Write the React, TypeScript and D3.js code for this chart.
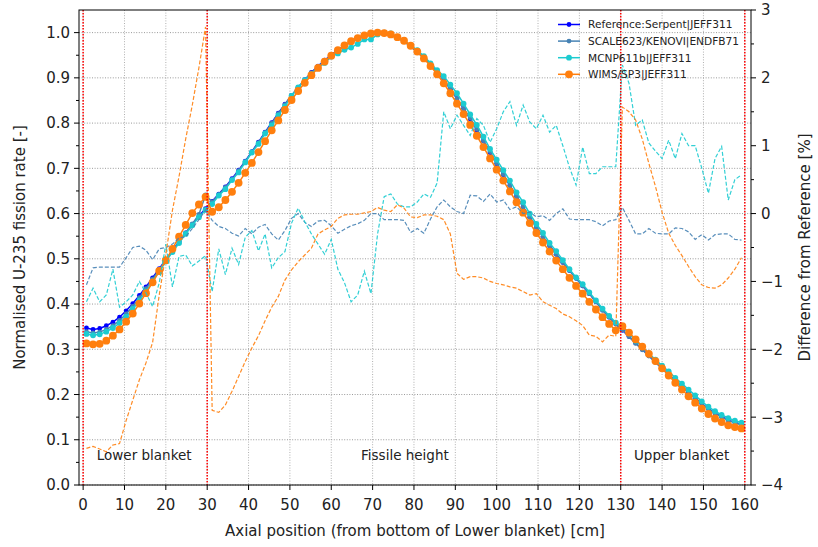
import React from "react";
import * as d3 from "d3";

// Axial mesh positions [cm]
const AXIAL_CM = [
  0.8, 2.4, 4.0, 5.6, 7.2, 8.8, 10.4, 12.0, 13.6, 15.2, 16.8, 18.4, 20.0, 21.6, 23.2, 24.8, 26.4, 28.0, 29.6, 31.2,
  32.8, 34.4, 36.0, 37.6, 39.2, 40.8, 42.4, 44.0, 45.6, 47.2, 48.8, 50.4, 52.0, 53.6, 55.2, 56.8, 58.4, 60.0, 61.6, 63.2,
  64.8, 66.4, 68.0, 69.6, 71.2, 72.8, 74.4, 76.0, 77.6, 79.2, 80.8, 82.4, 84.0, 85.6, 87.2, 88.8, 90.4, 92.0, 93.6, 95.2,
  96.8, 98.4, 100.0, 101.6, 103.2, 104.8, 106.4, 108.0, 109.6, 111.2, 112.8, 114.4, 116.0, 117.6, 119.2, 120.8, 122.4, 124.0, 125.6, 127.2,
  128.8, 130.4, 132.0, 133.6, 135.2, 136.8, 138.4, 140.0, 141.6, 143.2, 144.8, 146.4, 148.0, 149.6, 151.2, 152.8, 154.4, 156.0, 157.6, 159.2,
];

// Normalised U-235 fission rate
const REF_SERPENT = [
  0.347, 0.344, 0.346, 0.352, 0.360, 0.371, 0.385, 0.401, 0.419, 0.438, 0.458, 0.478, 0.498, 0.518, 0.538, 0.557, 0.576, 0.594, 0.611, 0.627,
  0.643, 0.659, 0.677, 0.696, 0.716, 0.737, 0.758, 0.780, 0.801, 0.822, 0.842, 0.861, 0.879, 0.896, 0.912, 0.926, 0.939, 0.951, 0.962, 0.972,
  0.980, 0.987, 0.993, 0.997, 0.999, 0.998, 0.995, 0.989, 0.981, 0.971, 0.959, 0.945, 0.930, 0.913, 0.895, 0.875, 0.854, 0.832, 0.809, 0.785,
  0.760, 0.735, 0.710, 0.686, 0.662, 0.638, 0.615, 0.592, 0.570, 0.549, 0.529, 0.510, 0.492, 0.474, 0.457, 0.440, 0.423, 0.405, 0.387, 0.371,
  0.356, 0.342, 0.328, 0.314, 0.300, 0.286, 0.272, 0.258, 0.244, 0.231, 0.218, 0.205, 0.192, 0.180, 0.169, 0.159, 0.151, 0.144, 0.138, 0.134,
];
const SCALE_KENOVI = [
  0.339, 0.336, 0.338, 0.344, 0.352, 0.364, 0.378, 0.395, 0.414, 0.434, 0.455, 0.476, 0.497, 0.517, 0.537, 0.557, 0.577, 0.598, 0.641, 0.626,
  0.642, 0.658, 0.675, 0.695, 0.715, 0.736, 0.757, 0.779, 0.800, 0.821, 0.841, 0.861, 0.879, 0.895, 0.911, 0.925, 0.938, 0.950, 0.961, 0.971,
  0.979, 0.986, 0.992, 0.997, 0.999, 0.997, 0.994, 0.988, 0.980, 0.969, 0.957, 0.943, 0.929, 0.913, 0.896, 0.876, 0.854, 0.832, 0.811, 0.787,
  0.761, 0.737, 0.711, 0.687, 0.662, 0.638, 0.615, 0.592, 0.570, 0.549, 0.529, 0.510, 0.492, 0.474, 0.457, 0.440, 0.423, 0.405, 0.386, 0.371,
  0.356, 0.343, 0.328, 0.313, 0.299, 0.285, 0.271, 0.257, 0.243, 0.230, 0.217, 0.204, 0.191, 0.179, 0.168, 0.159, 0.150, 0.143, 0.137, 0.133,
];
const MCNP611B = [
  0.334, 0.331, 0.333, 0.339, 0.347, 0.358, 0.372, 0.389, 0.408, 0.428, 0.450, 0.472, 0.494, 0.515, 0.535, 0.555, 0.574, 0.592, 0.608, 0.621,
  0.640, 0.654, 0.674, 0.691, 0.713, 0.735, 0.754, 0.777, 0.795, 0.817, 0.837, 0.860, 0.879, 0.895, 0.909, 0.922, 0.933, 0.947, 0.954, 0.962,
  0.967, 0.975, 0.985, 0.985, 0.996, 1.000, 0.998, 0.990, 0.982, 0.972, 0.961, 0.948, 0.932, 0.917, 0.904, 0.885, 0.866, 0.843, 0.819, 0.796,
  0.770, 0.743, 0.719, 0.696, 0.673, 0.647, 0.625, 0.600, 0.577, 0.557, 0.535, 0.517, 0.497, 0.477, 0.459, 0.444, 0.426, 0.408, 0.390, 0.374,
  0.359, 0.350, 0.335, 0.319, 0.305, 0.291, 0.277, 0.264, 0.251, 0.237, 0.224, 0.211, 0.198, 0.185, 0.173, 0.163, 0.155, 0.148, 0.142, 0.138,
];
const WIMS_SP3 = [
  0.313, 0.311, 0.312, 0.319, 0.330, 0.344, 0.361, 0.379, 0.401, 0.424, 0.448, 0.473, 0.497, 0.522, 0.549, 0.575, 0.601, 0.620, 0.637, 0.604,
  0.614, 0.630, 0.648, 0.668, 0.690, 0.712, 0.736, 0.760, 0.784, 0.806, 0.829, 0.851, 0.871, 0.889, 0.906, 0.922, 0.936, 0.949, 0.961, 0.972,
  0.981, 0.988, 0.994, 0.998, 1.000, 0.999, 0.996, 0.990, 0.982, 0.971, 0.958, 0.943, 0.926, 0.908, 0.888, 0.866, 0.843, 0.820, 0.796, 0.772,
  0.747, 0.722, 0.697, 0.673, 0.649, 0.625, 0.602, 0.579, 0.557, 0.536, 0.516, 0.496, 0.477, 0.458, 0.440, 0.423, 0.405, 0.388, 0.371, 0.356,
  0.342, 0.351, 0.337, 0.322, 0.306, 0.290, 0.274, 0.258, 0.242, 0.226, 0.211, 0.196, 0.182, 0.169, 0.157, 0.147, 0.139, 0.132, 0.128, 0.125,
];

// Difference from reference [%]
const DIFF_SCALE = [
  -1.05, -0.80, -0.79, -0.79, -0.79, -0.79, -0.65, -0.50, -0.48, -0.54, -0.68, -0.52, -0.50, -0.45, -0.36, -0.34, -0.22, -0.09, 0.05, -0.10,
  -0.19, -0.22, -0.29, -0.33, -0.22, -0.30, -0.20, -0.16, -0.30, -0.39, -0.25, -0.07, 0.00, -0.13, -0.19, -0.11, -0.10, -0.18, -0.29, -0.23,
  -0.18, -0.15, -0.10, 0.00, 0.00, -0.09, -0.09, -0.09, -0.10, -0.28, -0.22, -0.29, -0.08, 0.10, 0.20, 0.10, 0.03, 0.00, 0.27, 0.26,
  0.18, 0.29, 0.17, 0.20, 0.06, 0.10, 0.00, 0.02, -0.05, -0.03, -0.10, 0.00, 0.07, -0.08, -0.09, -0.09, -0.09, -0.12, -0.18, -0.11,
  -0.09, 0.09, -0.10, -0.30, -0.30, -0.22, -0.29, -0.30, -0.30, -0.21, -0.22, -0.27, -0.38, -0.31, -0.39, -0.31, -0.30, -0.30, -0.38, -0.39,
];
const DIFF_MCNP = [
  -1.30, -1.10, -1.30, -1.20, -0.82, -1.38, -1.30, -1.20, -1.00, -1.17, -1.37, -1.02, -0.45, -1.08, -0.63, -0.61, -0.77, -0.70, -0.62, -1.15,
  -0.52, -0.90, -0.51, -0.75, -0.35, -0.25, -0.55, -0.30, -0.80, -0.65, -0.56, -0.14, 0.08, -0.12, -0.30, -0.45, -0.60, -0.38, -0.82, -1.02,
  -1.30, -1.20, -0.85, -1.18, -0.30, 0.25, 0.29, 0.14, 0.10, 0.10, 0.17, 0.29, 0.24, 0.45, 1.50, 1.25, 1.45, 1.30, 1.15, 1.40,
  1.30, 1.05, 1.25, 1.50, 1.65, 1.30, 1.60, 1.35, 1.25, 1.45, 1.20, 1.30, 1.00, 0.68, 0.42, 0.98, 0.59, 0.59, 0.69, 0.69,
  0.69, 2.19, 1.92, 1.30, 1.38, 1.04, 0.92, 0.81, 1.08, 0.81, 1.18, 1.00, 1.00, 0.67, 0.30, 0.81, 0.99, 0.20, 0.50, 0.57,
];
const DIFF_WIMS = [
  -3.46, -3.43, -3.47, -3.51, -3.41, -3.39, -3.05, -2.75, -2.45, -2.20, -1.90, -1.20, -0.60, 0.05, 0.55, 1.10, 1.60, 2.15, 2.75, -2.90,
  -2.93, -2.82, -2.62, -2.40, -2.18, -1.98, -1.80, -1.58, -1.38, -1.22, -0.98, -0.83, -0.71, -0.61, -0.51, -0.30, -0.24, -0.19, -0.07, -0.02,
  -0.01, -0.01, 0.01, 0.03, 0.09, 0.05, 0.03, 0.13, 0.08, -0.05, -0.06, -0.02, -0.02, -0.04, -0.09, -0.30, -0.88, -0.97, -0.93, -0.93,
  -0.95, -1.00, -1.03, -1.05, -1.08, -1.10, -1.15, -1.20, -1.18, -1.30, -1.35, -1.40, -1.48, -1.52, -1.58, -1.65, -1.79, -1.81, -1.89, -1.79,
  -1.81, 1.57, 1.50, 1.38, 1.10, 0.74, 0.40, 0.02, -0.29, -0.47, -0.62, -0.78, -0.93, -1.05, -1.09, -1.10, -1.05, -0.95, -0.82, -0.65,
];

const SERIES_NAMES = ["Reference:Serpent|JEFF311", "SCALE623/KENOVI|ENDFB71", "MCNP611b|JEFF311", "WIMS/SP3|JEFF311"];
const X_TICKS = [0, 10, 20, 30, 40, 50, 60, 70, 80, 90, 100, 110, 120, 130, 140, 150, 160];
const LEFT_TICKS = [0.0, 0.1, 0.2, 0.3, 0.4, 0.5, 0.6, 0.7, 0.8, 0.9, 1.0];
const LEFT_MINOR = [0.05, 0.15, 0.25, 0.35, 0.45, 0.55, 0.65, 0.75, 0.85, 0.95];
const RIGHT_TICKS = [-4, -3, -2, -1, 0, 1, 2, 3];
const RIGHT_MINOR = [-3.5, -2.5, -1.5, -0.5, 0.5, 1.5, 2.5];
const ZONE_BOUNDS = [0, 30, 130, 160];
const ZONE_LABELS = ["Lower blanket", "Fissile height", "Upper blanket"];
const ZONE_LABEL_X = [3.3, 67.2, 133.2];

const FONT = "DejaVu Sans, Verdana, sans-serif";

export default function App() {
  const W = 818, H = 547;
  const L = 79, R = 751, T = 10, B = 485;
  const x = d3.scaleLinear().domain([-1, 161.5]).range([L, R]);
  const yL = d3.scaleLinear().domain([0, 1.05]).range([B, T]);
  const yR = d3.scaleLinear().domain([-4, 3]).range([B, T]);

  const lineL = (vals: number[]) =>
    d3.line<number>().x((_, i) => x(AXIAL_CM[i])).y((v) => yL(v))(vals) || "";
  const lineR = (vals: number[]) =>
    d3.line<number>().x((_, i) => x(AXIAL_CM[i])).y((v) => yR(v))(vals) || "";

  const solid = [
    { vals: REF_SERPENT, color: "#0000ff", r: 2.4 },
    { vals: SCALE_KENOVI, color: "#4682b4", r: 2.4 },
    { vals: MCNP611B, color: "#1ccbd0", r: 2.9 },
    { vals: WIMS_SP3, color: "#ff7f0e", r: 3.9 },
  ];
  const dashed = [
    { vals: DIFF_SCALE, color: "#4682b4" },
    { vals: DIFF_MCNP, color: "#1ccbd0" },
    { vals: DIFF_WIMS, color: "#ff7f0e" },
  ];
  const fmt1 = d3.format(".1f");
  const fmtR = (v: number) => (v < 0 ? "\u2212" + Math.abs(v) : String(v));

  return (
    <svg width={W} height={H} style={{ position: "absolute", left: 0, top: 0, background: "#fff" }} fontFamily={FONT}>
      <rect x={0} y={0} width={W} height={H} fill="#fff" />
      {/* grid */}
      {X_TICKS.map((t) => (
        <line key={"gx" + t} x1={x(t)} x2={x(t)} y1={T} y2={B} stroke="#b0b0b0" strokeWidth={1} strokeDasharray="1,1.6" />
      ))}
      {LEFT_TICKS.map((t) => (
        <line key={"gy" + t} x1={L} x2={R} y1={yL(t)} y2={yL(t)} stroke="#9a9a9a" strokeWidth={1} strokeDasharray="1,1.6" />
      ))}

      {/* solid fission-rate curves */}
      {solid.map((s, k) => (
        <g key={"s" + k}>
          <path d={lineL(s.vals)} fill="none" stroke={s.color} strokeWidth={1.5} />
          {s.vals.map((v, i) => (
            <circle key={i} cx={x(AXIAL_CM[i])} cy={yL(v)} r={s.r} fill={s.color} />
          ))}
        </g>
      ))}

      {/* dashed difference curves */}
      {dashed.map((s, k) => (
        <path key={"d" + k} d={lineR(s.vals)} fill="none" stroke={s.color} strokeWidth={1.2} strokeDasharray="4,2" opacity={0.9} />
      ))}

      {/* zone boundaries */}
      {ZONE_BOUNDS.map((b) => (
        <line key={"z" + b} x1={x(b)} x2={x(b)} y1={T} y2={B} stroke="#ff0000" strokeWidth={1.5} strokeDasharray="1.5,1.5" />
      ))}

      {/* zone labels */}
      {ZONE_LABELS.map((lab, i) => (
        <text key={lab} x={x(ZONE_LABEL_X[i])} y={yL(0.055)} fontSize={13.5} fill="#222">{lab}</text>
      ))}

      {/* frame */}
      <rect x={L} y={T} width={R - L} height={B - T} fill="none" stroke="#000" strokeWidth={1} />

      {/* bottom axis */}
      {X_TICKS.map((t) => (
        <g key={"xt" + t}>
          <line x1={x(t)} x2={x(t)} y1={B} y2={B + 5} stroke="#000" />
          <text x={x(t)} y={B + 25} textAnchor="middle" fontSize={15} fill="#222">{t}</text>
        </g>
      ))}
      <text x={(L + R) / 2} y={536} textAnchor="middle" fontSize={15} fill="#222">
        Axial position (from bottom of Lower blanket) [cm]
      </text>

      {/* left axis */}
      {LEFT_TICKS.map((t) => (
        <g key={"yt" + t}>
          <line x1={L - 5} x2={L} y1={yL(t)} y2={yL(t)} stroke="#000" />
          <text x={L - 9} y={yL(t)} dy="0.36em" textAnchor="end" fontSize={15} fill="#222">{fmt1(t)}</text>
        </g>
      ))}
      {LEFT_MINOR.map((t) => (
        <line key={"ym" + t} x1={L - 3} x2={L} y1={yL(t)} y2={yL(t)} stroke="#000" />
      ))}
      <text transform={`translate(20,${(T + B) / 2}) rotate(-90)`} textAnchor="middle" dy="0.36em" fontSize={15} fill="#222">
        Normalised U-235 fission rate [-]
      </text>

      {/* right axis */}
      {RIGHT_TICKS.map((t) => (
        <g key={"rt" + t}>
          <line x1={R} x2={R + 5} y1={yR(t)} y2={yR(t)} stroke="#000" />
          <text x={R + 10} y={yR(t)} dy="0.36em" textAnchor="start" fontSize={15} fill="#222">{fmtR(t)}</text>
        </g>
      ))}
      {RIGHT_MINOR.map((t) => (
        <line key={"rm" + t} x1={R} x2={R + 3} y1={yR(t)} y2={yR(t)} stroke="#000" />
      ))}
      <text transform={`translate(805,${(T + B) / 2}) rotate(-90)`} textAnchor="middle" dy="0.36em" fontSize={15} fill="#222">
        Difference from Reference [%]
      </text>

      {/* legend */}
      {SERIES_NAMES.map((name, i) => {
        const yy = 24.5 + i * 16.6;
        const s = solid[i];
        return (
          <g key={name}>
            <line x1={558} x2={580} y1={yy} y2={yy} stroke={s.color} strokeWidth={1.5} />
            <circle cx={569} cy={yy} r={s.r} fill={s.color} />
            <text x={588} y={yy} dy="0.36em" fontSize={10.6} fill="#222">{name}</text>
          </g>
        );
      })}
    </svg>
  );
}
